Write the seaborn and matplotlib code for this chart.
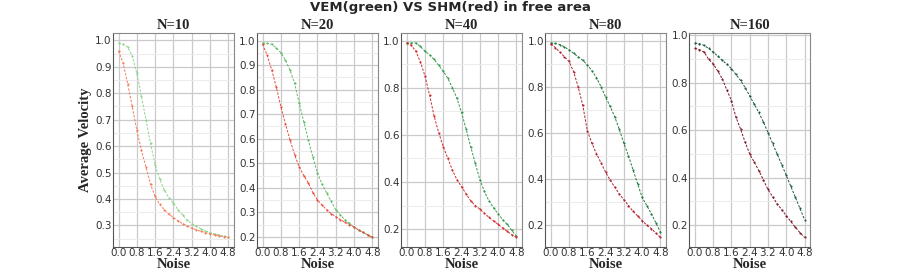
import numpy as np
import pandas as pd
import matplotlib
matplotlib.use("Agg")
import matplotlib.pyplot as plt
from matplotlib.ticker import AutoMinorLocator, MultipleLocator
import seaborn as sns

# noise levels (x axis)
noise = [0.0, 0.2, 0.4, 0.6, 0.8, 1.0, 1.2, 1.4, 1.6, 1.8, 2.0, 2.2, 2.4,
         2.6, 2.8, 3.0, 3.2, 3.4, 3.6, 3.8, 4.0, 4.2, 4.4, 4.6, 4.8]

# average velocity, per swarm size
vem_10 = [0.99, 0.985, 0.975, 0.94, 0.875, 0.79, 0.70, 0.61, 0.53, 0.475, 0.435, 0.405, 0.385,
          0.36, 0.34, 0.32, 0.307, 0.297, 0.288, 0.28, 0.273, 0.268, 0.263, 0.26, 0.257]
shm_10 = [0.96, 0.915, 0.835, 0.75, 0.66, 0.585, 0.52, 0.455, 0.41, 0.38, 0.36, 0.343, 0.33,
          0.318, 0.307, 0.298, 0.29, 0.284, 0.278, 0.273, 0.269, 0.265, 0.261, 0.258, 0.255]

vem_20 = [0.99, 0.988, 0.985, 0.97, 0.95, 0.92, 0.88, 0.825, 0.745, 0.67, 0.595, 0.525, 0.46,
          0.415, 0.38, 0.345, 0.31, 0.29, 0.27, 0.255, 0.24, 0.228, 0.218, 0.208, 0.20]
shm_20 = [0.985, 0.94, 0.88, 0.81, 0.73, 0.66, 0.595, 0.535, 0.485, 0.45, 0.42, 0.38, 0.35,
          0.33, 0.31, 0.295, 0.282, 0.27, 0.26, 0.25, 0.24, 0.228, 0.218, 0.208, 0.198]

vem_40 = [0.99, 0.99, 0.99, 0.975, 0.955, 0.94, 0.92, 0.895, 0.87, 0.84, 0.80, 0.755, 0.695,
          0.625, 0.55, 0.48, 0.41, 0.36, 0.32, 0.29, 0.265, 0.24, 0.22, 0.195, 0.17]
shm_40 = [0.99, 0.98, 0.955, 0.91, 0.85, 0.77, 0.68, 0.61, 0.55, 0.50, 0.45, 0.41, 0.38,
          0.35, 0.32, 0.30, 0.285, 0.267, 0.25, 0.235, 0.22, 0.205, 0.19, 0.177, 0.165]

vem_80 = [0.99, 0.988, 0.983, 0.973, 0.96, 0.945, 0.93, 0.915, 0.895, 0.87, 0.84, 0.80, 0.755,
          0.715, 0.67, 0.615, 0.555, 0.50, 0.44, 0.38, 0.32, 0.285, 0.25, 0.21, 0.17]
shm_80 = [0.985, 0.97, 0.95, 0.93, 0.91, 0.865, 0.80, 0.72, 0.61, 0.555, 0.51, 0.47, 0.43,
          0.395, 0.365, 0.335, 0.31, 0.285, 0.26, 0.24, 0.22, 0.20, 0.185, 0.165, 0.147]

vem_160 = [0.968, 0.965, 0.958, 0.945, 0.93, 0.913, 0.895, 0.878, 0.86, 0.835, 0.81, 0.78, 0.745,
           0.71, 0.675, 0.635, 0.59, 0.545, 0.50, 0.455, 0.41, 0.363, 0.317, 0.27, 0.223]
shm_160 = [0.945, 0.94, 0.93, 0.90, 0.88, 0.85, 0.817, 0.77, 0.725, 0.655, 0.605, 0.55, 0.50,
           0.465, 0.43, 0.39, 0.35, 0.32, 0.29, 0.265, 0.24, 0.215, 0.19, 0.168, 0.148]

sizes = [10, 20, 40, 80, 160]
vem = [vem_10, vem_20, vem_40, vem_80, vem_160]
shm = [shm_10, shm_20, shm_40, shm_80, shm_160]

# colours get darker as N grows
green_cols = ["#8ed58a", "#5dbb63", "#2f9a4a", "#1f7a3e", "#1a5a3a"]
red_cols = ["#f47a5a", "#ea4a3c", "#d42a2a", "#b0202e", "#7c1424"]

sns.set_style("whitegrid")
plt.rcParams["font.family"] = ["DejaVu Sans"]

fig, axes = plt.subplots(1, 5, figsize=(9, 2.77), dpi=100)
fig.subplots_adjust(left=0.1256, right=0.9, top=0.88, bottom=0.108, wspace=0.194)

serif = "Liberation Serif"

for i, ax in enumerate(axes):
    df = pd.DataFrame({
        "Noise": noise + noise,
        "v": vem[i] + shm[i],
        "model": ["VEM"] * len(noise) + ["SHM"] * len(noise),
    })
    sns.lineplot(data=df, x="Noise", y="v", hue="model", ax=ax,
                 palette={"VEM": green_cols[i], "SHM": red_cols[i]},
                 linestyle=(0, (2.5, 1.5)), marker="o", markersize=1.5, markeredgewidth=0,
                 linewidth=0.7, legend=False)
    ax.set_title(f"N={sizes[i]}", fontfamily=serif, fontweight="bold", fontsize=10.5, pad=3)
    ax.set_xlabel("Noise", fontfamily=serif, fontweight="bold", fontsize=10.5, labelpad=0)
    ax.set_ylabel("")
    ax.xaxis.set_major_locator(MultipleLocator(0.8))
    if i < 2:
        ax.yaxis.set_major_locator(MultipleLocator(0.1))
    else:
        ax.yaxis.set_major_locator(MultipleLocator(0.2))
    ax.yaxis.set_minor_locator(AutoMinorLocator(2))
    ax.grid(which="major", color="#cacaca", linewidth=0.9)
    ax.grid(which="minor", axis="y", color="#ebebeb", linewidth=0.7)
    ax.tick_params(axis="both", which="major", labelsize=7.5, pad=1, length=0,
                   labelcolor="#333333")
    ax.tick_params(which="minor", length=0)
    for s in ax.spines.values():
        s.set_color("#888888")
        s.set_linewidth(0.8)
    ax.spines["left"].set_color("#555555")
    ax.spines["bottom"].set_color("#555555")

axes[0].set_ylabel("Average Velocity", fontfamily=serif, fontweight="bold", fontsize=10.5, labelpad=2)
fig.suptitle("VEM(green) VS SHM(red) in free area", fontweight="bold", fontsize=9.5, y=0.995)

fig.savefig("out.png", dpi=100)
